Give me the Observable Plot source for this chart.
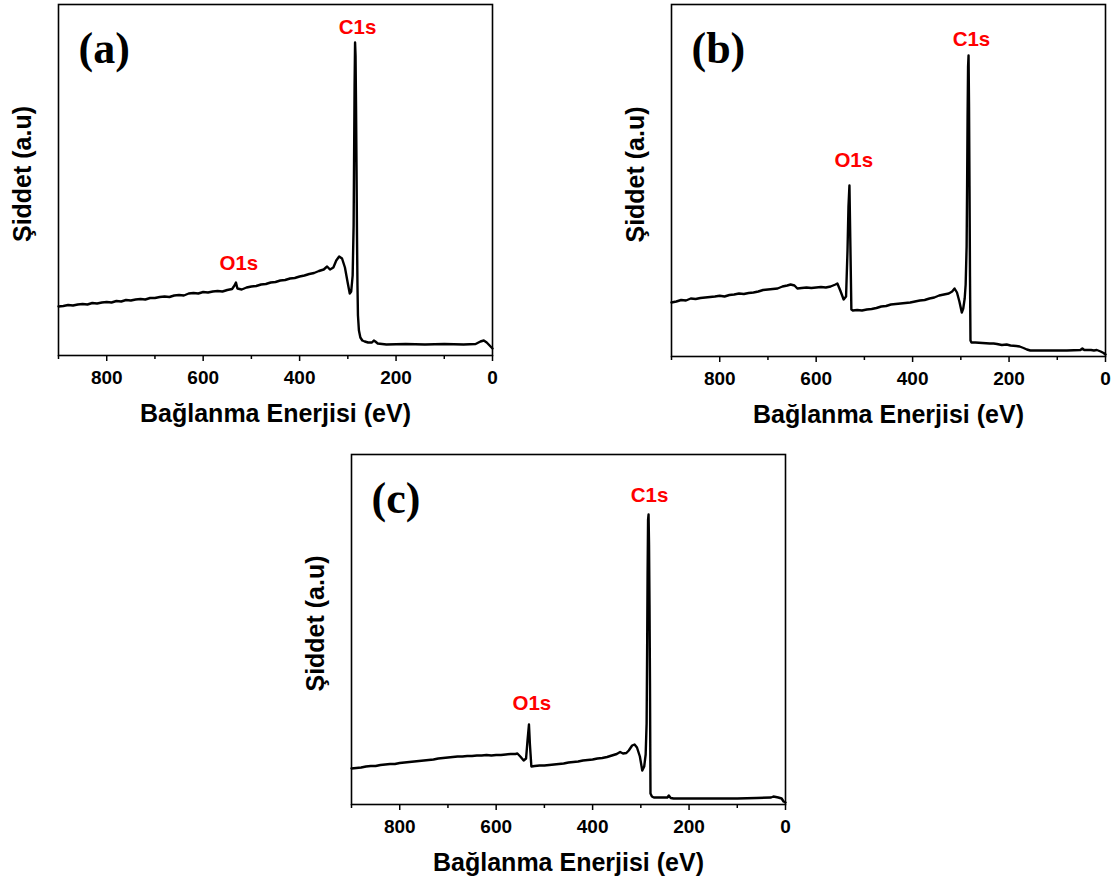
<!DOCTYPE html>
<html><head><meta charset="utf-8">
<script src="https://cdn.jsdelivr.net/npm/d3@7"></script>
<script src="https://cdn.jsdelivr.net/npm/@observablehq/plot@0.6"></script>
<style>
body{margin:0;background:#fff;}
#wrap{position:relative;width:1115px;height:881px;overflow:hidden;background:#fff;}
.panel{position:absolute;}
</style></head><body><div id="wrap"></div>
<script>
// ---- Data (binding energy in eV, intensity in arbitrary units) ----
const energyA = [900,890,880,870,860,850,840,830,820,810,800,790,780,770,760,750,740,730,720,710,700,690,680,670,660,650,640,630,620,610,600,590,580,570,560,550,540,535,532,529,520,510,500,490,480,470,460,450,440,430,420,410,400,390,380,370,360,350,343,337,330,324,318,312,306,300,296,293,290,288,287,286,285,284,283,282,281,280,279,277,274,270,265,258,250,246,243,238,220,180,140,100,60,35,25,18,12,6,2,0];
const intensityA = [49,49.5,50.5,50,51,51.5,51,52.5,52,53,53.5,53,54.5,54,55.5,55,56,56.5,56,57.5,57.5,58.5,59,58.5,60,60.5,60,62,62.5,62,63.5,63,64,64.5,64,65.5,66.5,70,73,67,66,68,69,69.5,71,71.5,73,73.5,75,75.5,77,77.5,79,80,81.5,82.5,84.5,86,89,86,88,95,99,97,88,72,62,64,80,130,200,270,313,300,250,190,120,70,40,25,18,15,14,13,13,15,14,12,11,11.5,11,11.5,11,11.5,14,15,13,10,8,7];

const energyB = [900,890,880,870,860,850,840,830,820,810,800,790,780,770,760,750,740,730,720,710,700,690,680,670,660,653,645,639,630,620,610,600,590,580,570,560,556,550,543,538,535,533,531,530,529,527,524,515,505,495,485,475,465,455,445,435,425,415,405,395,385,375,365,355,345,335,325,318,313,308,303,298,295,292,290,288,287,286,285,284,283,282,281,280,278,270,255,240,232,225,215,205,197,185,178,170,163,156,120,80,52,48,44,30,24,18,10,4,0];
const intensityB = [54,55,56.5,56,58,57.5,58.5,59,59.5,60,60.7,60,61.5,62,63,62.5,63.5,64,65,66.5,67,67.5,68,70,71,72,71,68,68.5,69,68.5,69,69.5,69,70,72,73,66,57,60,106,150,171,140,110,47,46,46.5,46,47,47.5,48.5,50,50.5,52,52.5,53,53.5,54,55,56,56.5,58,59,61,62,63,65,68,64,55,44,48,58,72,110,170,240,290,301,250,170,80,16,14,14,13.5,13,13,12.5,11.5,12,11,10.5,10,8.5,7,6,6,6,6.5,8,6.5,6.5,6,6.5,5,3.5,2];

const energyC = [900,890,880,870,860,850,840,830,820,810,800,790,780,770,760,750,740,730,720,710,700,690,680,670,660,650,640,630,620,610,600,590,580,570,560,556,550,543,538,535,532,530,527,520,510,500,490,480,470,460,450,440,430,420,410,400,390,380,370,360,350,343,337,330,325,318,313,308,302,297,293,290,288,287,286,285,284,283,282,281,280,277,273,255,245,242,238,232,200,150,100,60,30,25,15,8,4,0];
const intensityC = [36,36.5,37,38,38.5,38.5,39.5,40,40.5,40.5,41.5,42,42.5,43,43.5,44,44.5,45,46,46.5,47,47.5,48,48,48.5,48.5,49,49,49.5,49,49.5,49.5,50,50.5,50.5,51,48,44,46,64,80,60,38,38.5,39,39,39.5,40,40.5,41,42,42.5,43,44,44.5,45,46,46.5,47.5,49,50.5,52.5,51,51.5,54,59,60,57,48,34,38,50,81,150,230,285,290,260,200,120,11,8,7,7,7,9,6.5,6,6,6,6,6.5,7,8,7,6,3,2];

const peakNames = ["O1s", "C1s"];
const peakLabelEnergyA = [526, 280];
const peakLabelIntensityA = [92, 328];
const peakLabelEnergyB = [522, 278];
const peakLabelIntensityB = [196, 317];
const peakLabelEnergyC = [526, 282];
const peakLabelIntensityC = [101, 309];

const majorTicks = [800, 600, 400, 200, 0];
const minorTicks = [900, 700, 500, 300, 100];
const xLabel = "Bağlanma Enerjisi (eV)";
const yLabel = "Şiddet (a.u)";
const panelTags = ["(a)", "(b)", "(c)"];

// ---- Layout ----
const layouts = [
  {left: 0,   top: 0,   width: 520, height: 430, ml: 58, mr: 28, mt: 4,  mb: 75, ymax: 351},
  {left: 600, top: 0,   width: 515, height: 430, ml: 71, mr: 10, mt: 4,  mb: 74, ymax: 352},
  {left: 290, top: 440, width: 510, height: 441, ml: 61, mr: 15, mt: 14, mb: 77, ymax: 350}
];

const series = [
  {e: energyA, i: intensityA, pe: peakLabelEnergyA, pi: peakLabelIntensityA},
  {e: energyB, i: intensityB, pe: peakLabelEnergyB, pi: peakLabelIntensityB},
  {e: energyC, i: intensityC, pe: peakLabelEnergyC, pi: peakLabelIntensityC}
];

const sans = "'Liberation Sans', Arial, sans-serif";
const serif = "'Liberation Serif', 'Times New Roman', serif";
const wrap = document.getElementById("wrap");

series.forEach((s, k) => {
  const L = layouts[k];
  const line = s.e.map((e, j) => ({energy: e, intensity: s.i[j]}));
  const peaks = peakNames.map((n, j) => ({name: n, energy: s.pe[j], intensity: s.pi[j]}));
  const chart = Plot.plot({
    width: L.width, height: L.height,
    marginLeft: L.ml, marginRight: L.mr, marginTop: L.mt, marginBottom: L.mb,
    x: {domain: [900, 0], label: null},
    y: {domain: [0, L.ymax], axis: null},
    style: {fontFamily: sans, background: "white", overflow: "visible", color: "black"},
    marks: [
      Plot.axisX({ticks: minorTicks, tickSize: 4, tickFormat: () => "", strokeWidth: 1.5, label: null}),
      Plot.axisX({ticks: majorTicks, tickSize: 6, tickPadding: 9, fontSize: 19, fontWeight: "bold", strokeWidth: 1.5, label: null}),
      Plot.line(line, {x: "energy", y: "intensity", stroke: "black", strokeWidth: 2.4, strokeLinejoin: "round"}),
      Plot.frame({stroke: "black", strokeWidth: 1.6}),
      Plot.text(peaks, {x: "energy", y: "intensity", text: "name", fill: "#f00", fontSize: 20.5, fontWeight: "bold"}),
      Plot.text([panelTags[k]], {text: d => d, frameAnchor: "top-left", dx: 20, dy: 44, textAnchor: "start", lineAnchor: "middle", fontFamily: serif, fontWeight: "bold", fontSize: 44}),
      Plot.text([xLabel], {text: d => d, frameAnchor: "bottom", dy: 58, textAnchor: "middle", lineAnchor: "middle", fontSize: 25, fontWeight: "bold"}),
      Plot.text([yLabel], {text: d => d, frameAnchor: "left", dx: -36, dy: -6, rotate: -90, textAnchor: "middle", lineAnchor: "middle", fontSize: 25, fontWeight: "bold"})
    ]
  });
  const div = document.createElement("div");
  div.className = "panel";
  div.style.left = L.left + "px";
  div.style.top = L.top + "px";
  div.appendChild(chart);
  wrap.appendChild(div);
});
</script></body></html>
